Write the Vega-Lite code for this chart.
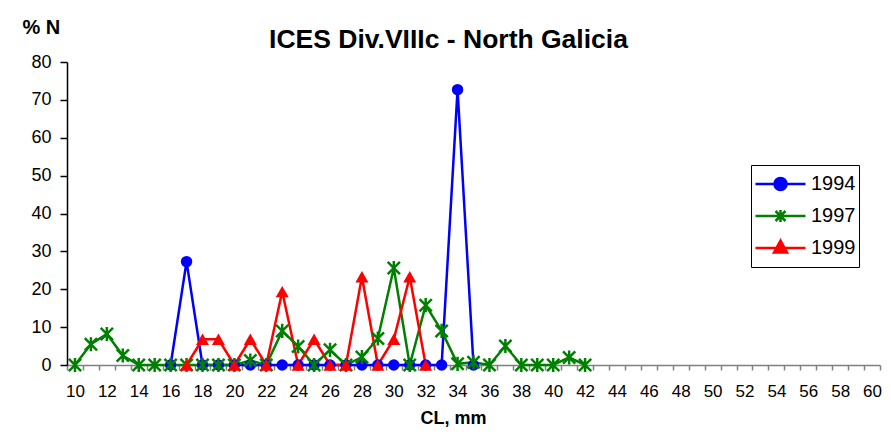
{
  "$schema": "https://vega.github.io/schema/vega-lite/v6.json",
  "autosize": "none",
  "width": 813,
  "height": 303,
  "padding": {"left": 67, "top": 62, "right": 11, "bottom": 71},
  "background": "white",
  "config": {
    "view": {"stroke": null},
    "font": "Liberation Sans",
    "axis": {"grid": false, "labelFont": "Liberation Sans", "titleFont": "Liberation Sans", "labelColor": "black", "titleColor": "black"}
  },
  "title": {
    "text": "ICES Div.VIIIc - North Galicia",
    "font": "Liberation Sans",
    "fontSize": 26.5,
    "fontWeight": "bold",
    "color": "black",
    "anchor": "middle",
    "dx": -25,
    "dy": 50,
    "offset": 14
  },
  "data": {
    "values": [
      {"cl": 16, "year": "1994", "pct": 0},
      {"cl": 17, "year": "1994", "pct": 27.3},
      {"cl": 18, "year": "1994", "pct": 0},
      {"cl": 19, "year": "1994", "pct": 0},
      {"cl": 20, "year": "1994", "pct": 0},
      {"cl": 21, "year": "1994", "pct": 0},
      {"cl": 22, "year": "1994", "pct": 0},
      {"cl": 23, "year": "1994", "pct": 0},
      {"cl": 24, "year": "1994", "pct": 0},
      {"cl": 25, "year": "1994", "pct": 0},
      {"cl": 26, "year": "1994", "pct": 0},
      {"cl": 27, "year": "1994", "pct": 0},
      {"cl": 28, "year": "1994", "pct": 0},
      {"cl": 29, "year": "1994", "pct": 0},
      {"cl": 30, "year": "1994", "pct": 0},
      {"cl": 31, "year": "1994", "pct": 0},
      {"cl": 32, "year": "1994", "pct": 0},
      {"cl": 33, "year": "1994", "pct": 0},
      {"cl": 34, "year": "1994", "pct": 72.7},
      {"cl": 35, "year": "1994", "pct": 0},
      {"cl": 10, "year": "1997", "pct": 0},
      {"cl": 11, "year": "1997", "pct": 5.5},
      {"cl": 12, "year": "1997", "pct": 8.2},
      {"cl": 13, "year": "1997", "pct": 2.5},
      {"cl": 14, "year": "1997", "pct": 0},
      {"cl": 15, "year": "1997", "pct": 0},
      {"cl": 16, "year": "1997", "pct": 0},
      {"cl": 17, "year": "1997", "pct": 0},
      {"cl": 18, "year": "1997", "pct": 0},
      {"cl": 19, "year": "1997", "pct": 0},
      {"cl": 20, "year": "1997", "pct": 0},
      {"cl": 21, "year": "1997", "pct": 1.2},
      {"cl": 22, "year": "1997", "pct": 0},
      {"cl": 23, "year": "1997", "pct": 9},
      {"cl": 24, "year": "1997", "pct": 4.9},
      {"cl": 25, "year": "1997", "pct": 0},
      {"cl": 26, "year": "1997", "pct": 4},
      {"cl": 27, "year": "1997", "pct": 0},
      {"cl": 28, "year": "1997", "pct": 2.1},
      {"cl": 29, "year": "1997", "pct": 7},
      {"cl": 30, "year": "1997", "pct": 25.6},
      {"cl": 31, "year": "1997", "pct": 0},
      {"cl": 32, "year": "1997", "pct": 15.8},
      {"cl": 33, "year": "1997", "pct": 9},
      {"cl": 34, "year": "1997", "pct": 0.3},
      {"cl": 35, "year": "1997", "pct": 0.7},
      {"cl": 36, "year": "1997", "pct": 0},
      {"cl": 37, "year": "1997", "pct": 5},
      {"cl": 38, "year": "1997", "pct": 0},
      {"cl": 39, "year": "1997", "pct": 0},
      {"cl": 40, "year": "1997", "pct": 0},
      {"cl": 41, "year": "1997", "pct": 2},
      {"cl": 42, "year": "1997", "pct": 0},
      {"cl": 17, "year": "1999", "pct": 0},
      {"cl": 18, "year": "1999", "pct": 6.8},
      {"cl": 19, "year": "1999", "pct": 6.8},
      {"cl": 20, "year": "1999", "pct": 0},
      {"cl": 21, "year": "1999", "pct": 6.8},
      {"cl": 22, "year": "1999", "pct": 0},
      {"cl": 23, "year": "1999", "pct": 19.4},
      {"cl": 24, "year": "1999", "pct": 0},
      {"cl": 25, "year": "1999", "pct": 6.8},
      {"cl": 26, "year": "1999", "pct": 0},
      {"cl": 27, "year": "1999", "pct": 0},
      {"cl": 28, "year": "1999", "pct": 23.3},
      {"cl": 29, "year": "1999", "pct": 0},
      {"cl": 30, "year": "1999", "pct": 6.8},
      {"cl": 31, "year": "1999", "pct": 23.3},
      {"cl": 32, "year": "1999", "pct": 0}
    ]
  },
  "encoding": {
    "x": {
      "field": "cl",
      "type": "ordinal",
      "scale": {"type": "band", "paddingInner": 0, "paddingOuter": 0, "domain": [10,11,12,13,14,15,16,17,18,19,20,21,22,23,24,25,26,27,28,29,30,31,32,33,34,35,36,37,38,39,40,41,42,43,44,45,46,47,48,49,50,51,52,53,54,55,56,57,58,59,60]},
      "axis": {
        "title": "CL, mm",
        "titleFontSize": 18,
        "titleFontWeight": "bold",
        "titleX": 386,
        "titleY": 58,
        "titleAlign": "center",
        "titleBaseline": "alphabetic",
        "labelAngle": 0,
        "labelFontSize": 17,
        "labelPadding": 13,
        "labelOverlap": false,
        "labelExpr": "datum.value % 2 == 0 ? datum.label : ''",
        "tickBand": "extent",
        "tickSize": 5,
        "tickColor": "#808080",
        "domainColor": "#808080",
        "domainWidth": 1.5,
        "tickWidth": 1.5
      }
    },
    "y": {
      "field": "pct",
      "type": "quantitative",
      "scale": {"domain": [0, 80], "nice": false},
      "axis": {
        "values": [0,10,20,30,40,50,60,70,80],
        "title": "% N",
        "titleAngle": 0,
        "titleFontSize": 20,
        "titleFontWeight": "bold",
        "titleX": -45,
        "titleY": -29,
        "titleAlign": "left",
        "titleBaseline": "alphabetic",
        "labelFontSize": 18,
        "labelPadding": 9,
        "tickSize": 7,
        "tickColor": "black",
        "domainColor": "black",
        "domainWidth": 1.5,
        "tickWidth": 1.5
      }
    }
  },
  "layer": [
    {
      "transform": [{"filter": "datum.year == '1994'"}],
      "mark": {"type": "line", "strokeWidth": 2.5, "color": "#0000FF"}
    },
    {
      "transform": [{"filter": "datum.year == '1997'"}],
      "mark": {"type": "line", "strokeWidth": 2.5, "color": "#008000"}
    },
    {
      "transform": [{"filter": "datum.year == '1999'"}],
      "mark": {"type": "line", "strokeWidth": 2.5, "color": "#FF0000"}
    },
    {
      "transform": [{"filter": "datum.year == '1994'"}],
      "mark": {"type": "point", "shape": "circle", "filled": true, "size": 130, "color": "#0000FF", "opacity": 1}
    },
    {
      "transform": [{"filter": "datum.year == '1997'"}],
      "mark": {"type": "point", "shape": "M-1,-1L1,1M-1,1L1,-1M0,-1.15L0,1.15", "filled": false, "size": 150, "strokeWidth": 2.5, "color": "#008000", "opacity": 1}
    },
    {
      "transform": [{"filter": "datum.year == '1999'"}],
      "mark": {"type": "point", "shape": "triangle-up", "filled": true, "size": 170, "color": "#FF0000", "opacity": 1}
    },
    {
      "transform": [{"filter": "datum.pct < 0"}],
      "mark": {"type": "point", "filled": true, "strokeWidth": 2.5, "opacity": 1},
      "encoding": {
        "color": {
          "field": "year",
          "type": "nominal",
          "scale": {"domain": ["1994", "1997", "1999"], "range": ["#0000FF", "#008000", "#FF0000"]},
          "legend": {
            "orient": "none",
            "legendX": 684,
            "legendY": 103,
            "title": null,
            "fillColor": "white",
            "strokeColor": "black",
            "padding": 3,
            "labelFontSize": 20,
            "labelFont": "Liberation Sans",
            "labelColor": "black",
            "labelOffset": 4,
            "labelExpr": "datum.label + '  '",
            "symbolSize": 2500,
            "symbolStrokeWidth": 2.5,
            "clipHeight": 32,
            "rowPadding": 0
          }
        },
        "stroke": {
          "field": "year",
          "type": "nominal",
          "scale": {"domain": ["1994", "1997", "1999"], "range": ["#0000FF", "#008000", "#FF0000"]}
        },
        "shape": {
          "field": "year",
          "type": "nominal",
          "scale": {"domain": ["1994", "1997", "1999"], "range": [
            "M-1,0L1,0M-0.24,0A0.24,0.24 0 1,0 0.24,0A0.24,0.24 0 1,0 -0.24,0Z",
            "M-1,0L1,0M-0.2,-0.2L0.2,0.2M-0.2,0.2L0.2,-0.2M0,-0.24L0,0.24",
            "M-1,0L1,0M0,-0.3L0.26,0.18L-0.26,0.18Z"
          ]}
        }
      }
    }
  ]
}
